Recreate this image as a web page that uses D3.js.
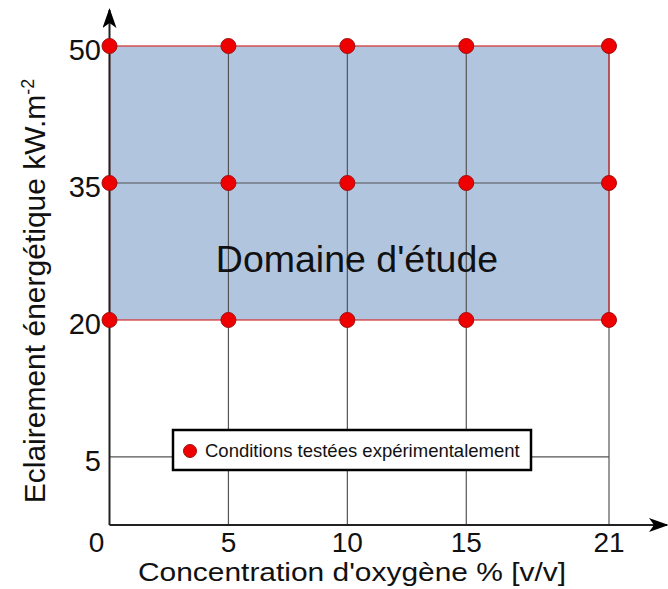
<!DOCTYPE html>
<html lang="fr">
<head>
<meta charset="UTF-8" />
<title>Domaine d'étude</title>
<script src="https://d3js.org/d3.v7.min.js"></script>
<style>
  body { margin: 0; background: #fff; }
  svg { font-family: "Liberation Sans", Arial, sans-serif; }
</style>
</head>
<body>
<script>
  // tested oxygen concentrations (% v/v) and irradiance levels (kW.m-2)
  const oxygen = [0, 5, 10, 15, 21];
  const irradiance = [20, 35, 50];
  const yTicks = [5, 20, 35, 50];
  const studyDomain = { x0: 0, x1: 21, y0: 20, y1: 50 };

  const width = 668, height = 589;

  const svg = d3.select("body").append("svg")
    .attr("width", width)
    .attr("height", height);

  const x = d3.scaleLinear().domain([0, 21]).range([109.5, 609]);
  const y = d3.scaleLinear().domain([-2.45, 50]).range([525, 46]);

  // arrow heads
  const defs = svg.append("defs");
  defs.append("marker")
    .attr("id", "arrow")
    .attr("viewBox", "0 0 20 14")
    .attr("refX", 18).attr("refY", 7)
    .attr("markerWidth", 20).attr("markerHeight", 14)
    .attr("markerUnits", "userSpaceOnUse")
    .attr("orient", "auto")
    .append("path")
    .attr("d", "M0,0 L20,7 L0,14 L5,7 Z")
    .attr("fill", "#000");

  // shaded study domain
  svg.append("rect")
    .attr("x", x(studyDomain.x0))
    .attr("y", y(studyDomain.y1))
    .attr("width", x(studyDomain.x1) - x(studyDomain.x0))
    .attr("height", y(studyDomain.y0) - y(studyDomain.y1))
    .attr("fill", "#b1c5df");

  // grid lines
  const grid = svg.append("g");
  grid.selectAll("line.v")
    .data(oxygen.filter(d => d > 0))
    .join("line")
    .attr("x1", d => x(d)).attr("x2", d => x(d))
    .attr("y1", y(50)).attr("y2", y.range()[0])
    .attr("stroke", "#555").attr("stroke-width", 1.2);
  grid.selectAll("line.h")
    .data(yTicks.filter(d => d !== 20 && d !== 50))
    .join("line")
    .attr("x1", x(0)).attr("x2", x(21))
    .attr("y1", d => y(d)).attr("y2", d => y(d))
    .attr("stroke", "#555").attr("stroke-width", 1.2);

  // domain border
  svg.append("rect")
    .attr("x", x(studyDomain.x0))
    .attr("y", y(studyDomain.y1))
    .attr("width", x(studyDomain.x1) - x(studyDomain.x0))
    .attr("height", y(studyDomain.y0) - y(studyDomain.y1))
    .attr("fill", "none")
    .attr("stroke", "#d33a3a")
    .attr("stroke-width", 1.3);

  svg.append("text")
    .attr("x", 357).attr("y", 272)
    .attr("text-anchor", "middle")
    .attr("font-size", 37.5)
    .attr("fill", "#111")
    .text("Domaine d'étude");

  // axes with arrows
  svg.append("line")
    .attr("x1", x(0)).attr("x2", x(0))
    .attr("y1", y.range()[0]).attr("y2", 10)
    .attr("stroke", "#222").attr("stroke-width", 2)
    .attr("marker-end", "url(#arrow)");
  svg.append("line")
    .attr("x1", x(0)).attr("x2", 667)
    .attr("y1", y.range()[0]).attr("y2", y.range()[0])
    .attr("stroke", "#222").attr("stroke-width", 2)
    .attr("marker-end", "url(#arrow)");

  // tick labels
  svg.selectAll("text.xt")
    .data(oxygen)
    .join("text")
    .attr("x", d => d === 0 ? x(d) - 13 : x(d))
    .attr("y", 552)
    .attr("text-anchor", "middle")
    .attr("font-size", 28)
    .attr("fill", "#111")
    .text(d => d);
  svg.selectAll("text.yt")
    .data(yTicks)
    .join("text")
    .attr("x", 101)
    .attr("y", d => y(d))
    .attr("dy", "0.48em")
    .attr("text-anchor", "end")
    .attr("font-size", 29)
    .attr("fill", "#111")
    .text(d => d);

  // axis titles
  svg.append("text")
    .attr("x", 352).attr("y", 581)
    .attr("text-anchor", "middle")
    .attr("font-size", 25)
    .attr("textLength", 428)
    .attr("lengthAdjust", "spacingAndGlyphs")
    .attr("fill", "#111")
    .text("Concentration d'oxygène % [v/v]");

  const yTitle = svg.append("text")
    .attr("transform", "translate(45,291) rotate(-90)")
    .attr("text-anchor", "middle")
    .attr("font-size", 30)
    .attr("fill", "#111");
  yTitle.append("tspan").text("Eclairement énergétique kW.m");
  yTitle.append("tspan").attr("dy", -11).attr("font-size", 18).text("-2");

  // tested conditions
  const pts = [];
  irradiance.forEach(e => oxygen.forEach(o => pts.push({ o, e })));
  svg.selectAll("circle.pt")
    .data(pts)
    .join("circle")
    .attr("cx", d => x(d.o))
    .attr("cy", d => y(d.e))
    .attr("r", 7.5)
    .attr("fill", "#ee0000")
    .attr("stroke", "#a01010")
    .attr("stroke-width", 1);

  // legend
  const lg = svg.append("g").attr("transform", "translate(173,430)");
  lg.append("rect")
    .attr("width", 358).attr("height", 40)
    .attr("fill", "#fff")
    .attr("stroke", "#000").attr("stroke-width", 2.5);
  lg.append("circle")
    .attr("cx", 17).attr("cy", 21).attr("r", 6.5)
    .attr("fill", "#ee0000").attr("stroke", "#a01010");
  lg.append("text")
    .attr("x", 32).attr("y", 21).attr("dy", "0.35em")
    .attr("font-size", 18.5)
    .attr("fill", "#111")
    .text("Conditions testées expérimentalement");
</script>
</body>
</html>
